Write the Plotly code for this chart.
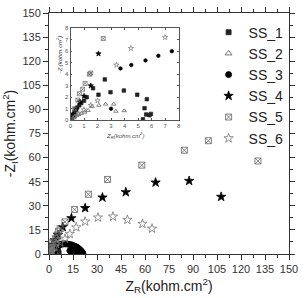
import plotly.graph_objects as go

names = ["SS_1", "SS_2", "SS_3", "SS_4", "SS_5", "SS_6"]

x1 = [0.05, 0.1, 0.15, 0.2, 0.3, 0.4, 0.5, 0.65, 0.8, 1.0, 1.2, 1.67, 2.07, 2.54, 2.96, 3.95, 4.94, 5.65, 5.48, 5.6, 5.36, 5.84, 5.95]
y1 = [0.1, 0.2, 0.35, 0.5, 0.7, 0.9, 1.1, 1.3, 1.5, 1.7, 2.0, 2.78, 2.22, 3.55, 2.44, 2.58, 2.22, 1.83, 1.05, 0.5, 0.08, 0.44, 0.55]

x2 = [0.05, 0.1, 0.2, 0.3, 0.45, 0.6, 0.8, 1.05, 1.3, 1.6, 2.1, 2.6, 3.2, 3.36, 3.97]
y2 = [0.05, 0.1, 0.2, 0.3, 0.4, 0.5, 0.6, 0.7, 0.85, 1.2, 1.3, 1.4, 1.4, 0.78, 0.83]

x3 = [3.0, 3.7, 4.5, 5.55, 6.5, 7.5, 8.5, 9.5, 10.5, 11.5, 12.5, 13.5, 14.5, 15.5, 16.5, 17.5, 18.3, 19.0, 19.6, 20.1, 20.5, 20.8, 21.0, 21.2, 20.0, 19.0, 18.0, 17.0, 16.0, 15.0, 14.0, 13.0]
y3 = [1.0, 4.5, 4.8, 5.2, 5.6, 6.0, 6.2, 6.3, 6.3, 6.2, 6.0, 5.8, 5.5, 5.1, 4.7, 4.2, 3.6, 3.0, 2.4, 1.8, 1.3, 0.9, 0.5, 0.2, 0.3, 0.5, 0.8, 1.0, 1.3, 1.5, 1.8, 2.0]

x4 = [0.2, 0.4, 0.7, 1.0, 1.5, 2.07, 3.7, 5.6, 8.6, 14.0, 22.6, 33.4, 48.0, 66.6, 87.6, 107.6]
y4 = [0.5, 1.0, 1.6, 2.1, 3.0, 5.78, 8.5, 11.9, 16.8, 22.3, 28.6, 35.2, 38.5, 44.5, 45.5, 35.6]

x5 = [0.3, 0.54, 0.66, 0.9, 1.08, 1.4, 1.5, 2.42, 4.0, 5.0, 6.0, 7.0, 10.0, 16.0, 24.6, 36.6, 58.0, 84.6, 99.6, 130.6]
y5 = [1.0, 1.75, 2.3, 2.7, 3.2, 4.0, 4.1, 7.1, 9.5, 11.8, 14.2, 15.8, 20.0, 27.7, 37.2, 46.4, 55.3, 64.6, 70.5, 57.9]

x6 = [0.3, 0.6, 1.0, 1.5, 2.0, 3.4, 4.47, 7.0, 10.0, 13.0, 17.0, 22.6, 30.6, 40.0, 49.0, 58.4, 64.4]
y6 = [0.3, 0.6, 0.9, 1.3, 1.7, 4.8, 6.25, 7.2, 9.5, 12.5, 16.6, 20.2, 22.7, 23.3, 21.3, 18.8, 15.8]

main_ticks = list(range(0, 151, 15))
inset_ticks = list(range(0, 9, 1))

xs = [x1, x2, x3, x4, x5, x6]
ys = [y1, y2, y3, y4, y5, y6]
symbols = ["square", "triangle-up-open", "circle", "star", "square-x-open", "star-open"]
colors = ["#222222", "#555555", "#000000", "#000000", "#666666", "#777777"]
sizes = [5, 6, 6, 7, 6, 7]
isizes = [3.5, 4, 3.5, 4, 4, 4]

fig = go.Figure()
for n, x, y, s, c, sz in zip(names, xs, ys, symbols, colors, sizes):
    fig.add_trace(go.Scatter(x=x, y=y, mode="markers", name=n,
                             marker=dict(symbol=s, color=c, size=sz,
                                         line=dict(color=c, width=0.8)),
                             xaxis="x", yaxis="y"))
for n, x, y, s, c, sz in zip(names, xs, ys, symbols, colors, isizes):
    fig.add_trace(go.Scatter(x=x, y=y, mode="markers", name=n, showlegend=False,
                             marker=dict(symbol=s, color=c, size=sz,
                                         line=dict(color=c, width=0.7)),
                             xaxis="x2", yaxis="y2"))

axis_common = dict(showgrid=False, zeroline=False, showline=True, linecolor="#333",
                   linewidth=1, mirror="ticks", ticks="outside", ticklen=5,
                   tickcolor="#333", tickfont=dict(family="Liberation Sans", size=11, color="#333"))

inset_font = dict(family="Liberation Sans", size=6, color="#555")

fig.update_layout(
    width=305, height=298,
    margin=dict(l=45, r=9, t=7, b=38),
    paper_bgcolor="white", plot_bgcolor="white",
    showlegend=True,
    legend=dict(x=0.665, y=0.985, xanchor="left", yanchor="top",
                font=dict(family="Liberation Sans", size=14, color="#222"),
                bgcolor="rgba(0,0,0,0)", tracegroupgap=0, itemsizing="trace"),
    xaxis=dict(range=[0, 150], tickvals=main_ticks, domain=[0, 1],
               minor=dict(ticks="outside", ticklen=3, dtick=7.5, tickcolor="#333"),
               title=dict(text="Z<sub>R</sub>(kohm.cm<sup>2</sup>)",
                          font=dict(family="Liberation Sans", size=14, color="#222"),
                          standoff=6),
               **axis_common),
    yaxis=dict(range=[0, 150], tickvals=main_ticks, domain=[0, 1],
               minor=dict(ticks="outside", ticklen=3, dtick=7.5, tickcolor="#333"),
               title=dict(text="-Z<sub>I</sub>(kohm.cm<sup>2</sup>)",
                          font=dict(family="Liberation Sans", size=14, color="#222"),
                          standoff=6),
               **axis_common),
    xaxis2=dict(range=[0, 8], tickvals=inset_ticks, domain=[0.0896, 0.54], anchor="y2",
                showgrid=False, zeroline=False, showline=True, linecolor="#555", linewidth=0.8,
                mirror="ticks", ticks="inside", ticklen=2, tickcolor="#555",
                tickfont=inset_font),
    yaxis2=dict(range=[0, 8], tickvals=inset_ticks, domain=[0.555, 0.937], anchor="x2",
                showgrid=False, zeroline=False, showline=True, linecolor="#555", linewidth=0.8,
                mirror="ticks", ticks="inside", ticklen=2, tickcolor="#555",
                tickfont=inset_font),
    annotations=[
        dict(text="<i>Z<sub>R</sub>(kohm.cm<sup>2</sup>)</i>", xref="x2 domain", yref="y2 domain",
             x=0.5, y=-0.17, showarrow=False, xanchor="center", yanchor="middle",
             font=dict(family="Liberation Sans", size=6, color="#444")),
        dict(text="<i>-Z<sub>I</sub>(kohm.cm<sup>2</sup>)</i>", xref="x2 domain", yref="y2 domain",
             x=-0.095, y=0.72, showarrow=False, xanchor="center", yanchor="middle", textangle=-90,
             font=dict(family="Liberation Sans", size=6, color="#444")),
    ],
)

fig.write_html("out.html")
